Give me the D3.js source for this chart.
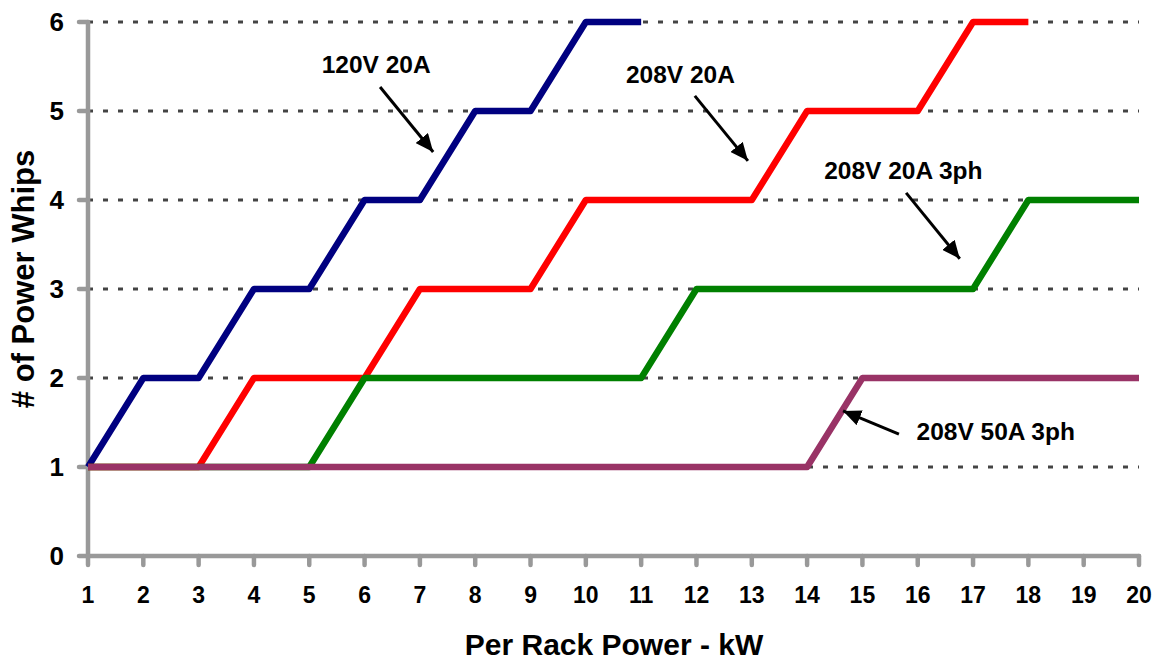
<!DOCTYPE html>
<html>
<head>
<meta charset="utf-8">
<script src="https://cdn.jsdelivr.net/npm/d3@7/dist/d3.min.js"></script>
<style>
  html, body { margin: 0; padding: 0; background: #fff; }
  svg { display: block; font-family: "Liberation Sans", Arial, sans-serif; }
</style>
</head>
<body>
<svg id="chart"></svg>
<script>
// Power whips needed per rack vs. per-rack power (kW)
const kw = d3.range(1, 21);
const yTicks = [0, 1, 2, 3, 4, 5, 6];

const whips120v20a    = [1, 2, 2, 3, 3, 4, 4, 5, 5, 6, 6];
const whips208v20a    = [1, 1, 1, 2, 2, 2, 3, 3, 3, 4, 4, 4, 4, 5, 5, 5, 6, 6];
const whips208v20a3ph = [1, 1, 1, 1, 1, 2, 2, 2, 2, 2, 2, 3, 3, 3, 3, 3, 3, 4, 4, 4];
const whips208v50a3ph = [1, 1, 1, 1, 1, 1, 1, 1, 1, 1, 1, 1, 1, 1, 2, 2, 2, 2, 2, 2];

const seriesNames = ["120V 20A", "208V 20A", "208V 20A 3ph", "208V 50A 3ph"];
const seriesValues = [whips120v20a, whips208v20a, whips208v20a3ph, whips208v50a3ph];

// callout labels and arrows, in data units (kW, whips)
const labelPos = [[6.21, 5.43], [11.71, 5.31], [15.74, 4.24], [17.41, 1.30]];
const arrowFrom = [[6.28, 5.27], [11.97, 5.17], [15.79, 4.08], [15.66, 1.37]];
const arrowTo   = [[7.24, 4.54], [12.93, 4.44], [16.76, 3.34], [14.65, 1.63]];

(function () {
  const W = 1161, H = 662;
  const M = { top: 22, right: 22, bottom: 106, left: 88 };

  const COLORS = ["#000080", "#ff0000", "#008000", "#993366"];
  const AXIS = "#999999";

  const svg = d3.select("#chart").attr("width", W).attr("height", H);

  const x = d3.scaleLinear().domain([1, 20]).range([M.left, W - M.right]);
  const y = d3.scaleLinear().domain([0, 6]).range([H - M.bottom, M.top]);

  // dotted gridlines
  svg.append("g")
    .selectAll("line").data(yTicks.filter(d => d > 0)).enter()
    .append("line")
    .attr("x1", x(1)).attr("x2", x(20))
    .attr("y1", d => y(d)).attr("y2", d => y(d))
    .attr("stroke", "#444")
    .attr("stroke-width", 3)
    .attr("stroke-dasharray", "5 10");

  // y axis
  svg.append("line")
    .attr("x1", x(1)).attr("x2", x(1))
    .attr("y1", y(6)).attr("y2", y(0))
    .attr("stroke", AXIS).attr("stroke-width", 4.5).attr("stroke-linecap", "round");
  svg.append("g").selectAll("line").data(yTicks).enter()
    .append("line")
    .attr("x1", x(1) - 9).attr("x2", x(1))
    .attr("y1", d => y(d)).attr("y2", d => y(d))
    .attr("stroke", AXIS).attr("stroke-width", 4.5).attr("stroke-linecap", "round");
  svg.append("g").selectAll("text").data(yTicks).enter()
    .append("text")
    .attr("x", x(1) - 24).attr("y", d => y(d))
    .attr("dy", "0.36em")
    .attr("text-anchor", "end")
    .attr("font-size", 26).attr("font-weight", 700)
    .text(d => d);

  // x axis
  svg.append("line")
    .attr("x1", x(1)).attr("x2", x(20))
    .attr("y1", y(0)).attr("y2", y(0))
    .attr("stroke", AXIS).attr("stroke-width", 4.5).attr("stroke-linecap", "round");
  svg.append("g").selectAll("line").data(kw).enter()
    .append("line")
    .attr("x1", d => x(d)).attr("x2", d => x(d))
    .attr("y1", y(0)).attr("y2", y(0) + 9)
    .attr("stroke", AXIS).attr("stroke-width", 4.5).attr("stroke-linecap", "round");
  svg.append("g").selectAll("text").data(kw).enter()
    .append("text")
    .attr("x", d => x(d)).attr("y", y(0) + 47)
    .attr("text-anchor", "middle")
    .attr("font-size", 23).attr("font-weight", 700)
    .text(d => d);

  // series lines
  const line = d3.line()
    .x((d, i) => x(kw[i]))
    .y(d => y(d));

  seriesValues.forEach((vals, i) => {
    svg.append("path")
      .attr("d", line(vals))
      .attr("fill", "none")
      .attr("stroke", COLORS[i])
      .attr("stroke-width", 6.5)
      .attr("stroke-linejoin", "round");
  });

  // arrowhead
  svg.append("defs").append("marker")
    .attr("id", "head")
    .attr("markerUnits", "userSpaceOnUse")
    .attr("markerWidth", 20).attr("markerHeight", 16)
    .attr("refX", 18).attr("refY", 8)
    .attr("orient", "auto")
    .append("path")
    .attr("d", "M0,0 L18,8 L0,16 Z")
    .attr("fill", "#000");

  // callouts
  seriesNames.forEach((name, i) => {
    svg.append("text")
      .attr("x", x(labelPos[i][0])).attr("y", y(labelPos[i][1]))
      .attr("text-anchor", "middle")
      .attr("font-size", 24.5).attr("font-weight", 700)
      .text(name);
    svg.append("line")
      .attr("x1", x(arrowFrom[i][0])).attr("y1", y(arrowFrom[i][1]))
      .attr("x2", x(arrowTo[i][0])).attr("y2", y(arrowTo[i][1]))
      .attr("stroke", "#000").attr("stroke-width", 3)
      .attr("marker-end", "url(#head)");
  });

  // axis titles
  svg.append("text")
    .attr("x", 614).attr("y", 655)
    .attr("text-anchor", "middle")
    .attr("font-size", 30).attr("font-weight", 700)
    .text("Per Rack Power - kW");

  svg.append("text")
    .attr("transform", "translate(34, 279) rotate(-90)")
    .attr("text-anchor", "middle")
    .attr("font-size", 31).attr("font-weight", 700)
    .text("# of Power Whips");
})();
</script>
</body>
</html>
